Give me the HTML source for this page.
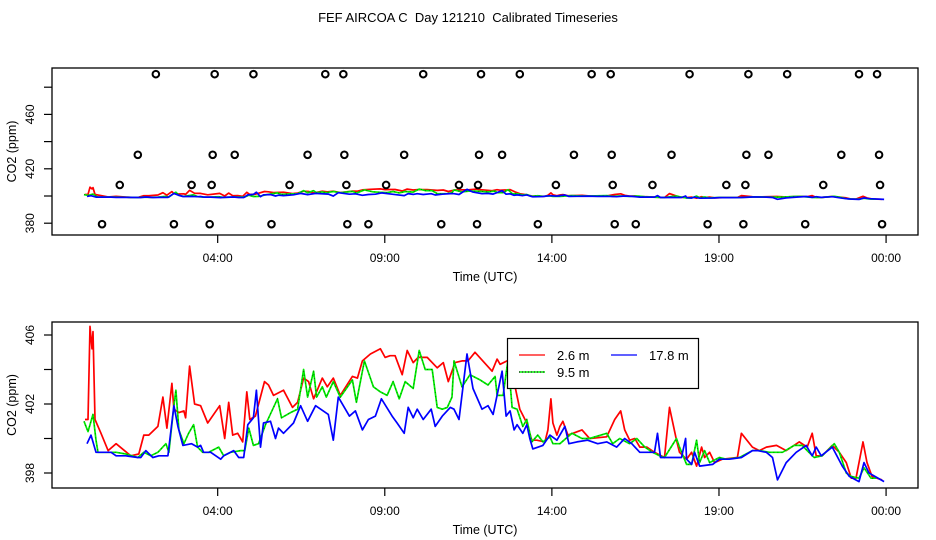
<!DOCTYPE html>
<html><head><meta charset="utf-8"><title>FEF AIRCOA C Calibrated Timeseries</title>
<style>
html,body{margin:0;padding:0;background:#fff;}
svg{display:block;}
text{font-family:"Liberation Sans",sans-serif;fill:#000;}
.pre{white-space:pre;}
</style></head>
<body>
<svg id="chart" width="936" height="540" viewBox="0 0 936 540" xmlns="http://www.w3.org/2000/svg">
<rect x="0" y="0" width="936" height="540" fill="#fff"/>
<text class="pre" xml:space="preserve" x="468" y="22" font-size="13" text-anchor="middle">FEF AIRCOA C  Day 121210  Calibrated Timeseries</text>
<g id="top"></g>
<g id="bot"></g>
</svg>
<script>
// ---- data (time in hours UTC, CO2 in ppm) ----
const redT = [0.03,0.12,0.18,0.24,0.27,0.33,0.51,0.72,0.96,1.40,1.64,1.79,1.94,2.21,2.36,2.48,2.63,2.69,2.84,2.99,3.04,3.16,3.31,3.49,3.70,4.06,4.21,4.33,4.45,4.60,4.75,4.87,4.96,5.13,5.40,5.52,5.67,5.97,6.24,6.39,6.57,6.72,6.87,7.13,7.28,7.46,7.67,8.03,8.18,8.33,8.57,8.87,9.01,9.16,9.31,9.52,9.67,9.85,10.00,10.27,10.57,10.75,10.90,11.10,11.31,11.49,11.70,12.21,12.36,12.45,12.66,12.75,12.90,13.04,13.25,13.40,13.55,13.79,13.88,13.97,14.03,14.15,14.24,14.33,14.48,14.63,14.90,15.13,15.64,15.88,16.06,16.18,16.33,16.48,16.63,16.84,17.07,17.37,17.52,17.73,17.82,18.03,18.18,18.33,18.48,18.57,18.72,18.87,19.10,19.55,19.67,20.00,20.21,20.42,20.72,21.01,21.40,21.64,21.79,21.91,22.09,22.39,22.60,22.81,22.96,23.10,23.31,23.43,23.58,23.88];
const redV = [401.1,401.1,406.5,405.2,406.2,401.1,400.3,399.3,399.7,399.0,399.1,400.2,400.2,400.7,402.4,400.6,403.2,401.7,401.5,401.6,401.2,404.2,402.0,401.9,400.9,401.9,400.0,402.1,400.2,400.3,399.8,402.7,401.1,401.3,403.3,403.1,402.5,402.8,401.8,402.1,403.5,403.3,402.3,403.5,403.0,403.5,402.5,403.6,403.5,404.5,404.9,405.2,404.7,404.8,404.8,403.7,405.1,404.4,404.7,404.7,404.1,404.4,403.3,404.4,404.5,404.5,405.0,403.9,404.6,404.3,404.5,404.7,403.0,401.7,400.9,399.9,399.9,399.8,400.5,402.3,400.9,400.2,400.7,401.0,400.2,400.3,400.5,400.0,400.1,401.1,401.6,400.5,399.9,400.0,399.5,399.5,399.2,398.9,401.8,399.9,399.2,398.8,399.2,398.4,399.5,398.9,399.2,398.6,398.8,398.9,400.3,399.5,399.3,399.5,399.6,399.3,399.8,399.5,400.3,399.0,399.0,399.6,399.2,398.6,397.7,397.7,399.8,398.6,397.8,397.6];
const greenT = [0.00,0.12,0.27,0.36,0.42,0.72,0.96,1.25,1.61,1.79,2.00,2.21,2.45,2.54,2.69,2.75,2.84,2.99,3.13,3.28,3.40,3.55,3.73,4.03,4.18,4.39,4.69,4.81,4.93,5.07,5.22,5.43,5.79,5.91,6.18,6.39,6.57,6.69,6.87,6.96,7.13,7.25,7.46,7.67,8.03,8.15,8.39,8.66,8.87,9.07,9.25,9.43,9.61,9.85,10.03,10.21,10.42,10.57,10.72,10.87,11.01,11.07,11.31,11.55,11.85,12.09,12.30,12.36,12.54,12.69,12.81,12.96,13.13,13.25,13.40,13.58,13.73,13.94,14.03,14.24,14.60,14.90,15.13,15.64,15.82,16.03,16.33,16.54,16.78,17.01,17.22,17.37,17.73,17.82,18.03,18.18,18.33,18.42,18.57,18.72,19.01,19.22,19.61,20.00,20.21,20.51,20.90,21.25,21.49,21.64,21.85,22.09,22.45,22.60,22.81,22.96,23.19,23.34,23.55,23.70];
const greenV = [401.0,400.4,401.4,399.9,399.2,399.2,399.2,399.1,398.9,399.2,399.0,399.2,399.7,399.2,401.9,402.8,400.5,399.7,400.3,400.8,399.5,399.2,399.2,399.5,399.0,399.2,399.3,399.3,400.6,399.6,399.7,400.8,402.3,401.2,401.5,401.7,404.0,402.4,403.9,402.4,403.0,402.4,403.3,402.4,403.4,402.1,404.5,403.0,402.7,402.5,403.3,402.3,403.3,402.9,405.1,404.0,404.0,401.8,401.7,401.8,402.4,404.5,403.0,403.7,403.4,403.1,403.6,402.5,402.5,404.6,401.8,401.7,400.7,401.1,399.8,400.2,399.8,400.1,399.7,399.7,400.3,400.0,400.0,400.3,399.7,400.0,399.7,400.0,399.5,399.2,399.0,398.9,400.0,399.5,398.5,398.5,399.9,398.6,399.3,398.6,398.9,398.8,398.9,399.3,399.3,399.2,399.2,399.6,399.6,399.3,398.9,399.0,399.7,399.2,398.0,397.8,397.7,398.3,397.7,397.7];
const blueT = [0.09,0.21,0.36,0.51,0.81,0.96,1.25,1.61,1.70,1.85,2.06,2.24,2.51,2.69,2.81,2.96,3.22,3.40,3.49,3.58,3.79,4.09,4.18,4.48,4.63,4.78,4.90,5.07,5.16,5.28,5.37,5.58,5.73,5.82,5.97,6.27,6.48,6.69,6.93,7.31,7.46,7.61,7.94,8.12,8.33,8.51,8.72,8.90,9.22,9.37,9.58,9.70,9.85,9.97,10.15,10.39,10.51,10.72,10.96,11.07,11.22,11.46,11.64,11.91,12.09,12.24,12.51,12.63,12.75,12.87,12.96,13.13,13.25,13.34,13.43,13.73,13.94,14.15,14.39,14.51,14.75,15.07,15.37,15.64,15.94,16.18,16.39,16.63,16.84,17.07,17.16,17.25,17.58,17.88,18.00,18.03,18.18,18.27,18.42,18.81,19.01,19.31,19.67,20.00,20.15,20.42,20.60,20.75,21.01,21.31,21.61,21.79,21.91,22.06,22.39,22.69,22.90,23.19,23.34,23.49,23.94];
const blueV = [399.7,400.2,399.2,399.2,399.2,399.0,399.0,398.9,398.9,399.3,398.9,399.0,399.0,401.9,400.7,399.6,399.7,399.5,399.6,399.2,399.2,398.8,399.0,399.3,398.9,398.9,400.8,401.2,402.8,399.5,400.9,401.0,400.0,400.6,400.3,400.9,401.9,401.0,401.9,401.4,399.9,402.4,401.3,401.6,400.5,401.1,401.3,402.3,401.3,400.9,400.3,401.8,401.2,401.7,401.1,401.7,400.7,401.3,401.8,401.7,401.1,404.9,402.9,401.7,401.9,401.4,403.9,401.3,401.6,400.5,400.8,400.3,400.8,400.0,399.4,399.6,400.2,399.9,400.7,399.7,399.8,399.9,399.7,399.8,399.5,400.0,399.7,399.2,399.2,399.2,400.3,398.9,398.9,398.9,400.0,398.8,398.5,399.2,398.4,398.5,398.8,398.8,398.9,399.3,399.3,399.2,398.9,397.6,398.6,399.2,399.6,399.0,399.5,399.0,399.5,398.4,397.8,397.5,398.6,398.0,397.5];
// calibration / flagged points in top panel
const calHighT = [2.15,3.91,5.07,7.22,7.76,10.15,11.88,13.04,15.19,15.76,18.12,19.88,21.04,23.19,23.73];
const calHighV = [489.6,489.6,489.6,489.6,489.6,489.6,489.6,489.6,489.6,489.6,489.6,489.6,489.6,489.6,489.6];
const calMidT = [1.61,3.85,4.51,6.69,7.79,9.58,11.82,12.51,14.66,15.79,17.58,19.82,20.48,22.66,23.79];
const calMidV = [430.3,430.3,430.3,430.3,430.3,430.3,430.3,430.3,430.3,430.3,430.3,430.3,430.3,430.3,430.3];
const calLowT = [1.07,3.22,3.82,6.15,7.85,9.04,11.22,11.79,14.12,15.82,17.01,19.22,19.79,22.12,23.82];
const calLowV = [408.1,408.1,408.1,408.1,408.1,408.1,408.1,408.1,408.1,408.1,408.1,408.1,408.1,408.1,408.1];
const calBaseT = [0.54,2.69,3.76,5.61,7.88,8.51,10.69,11.76,13.58,15.88,16.51,18.66,19.73,21.58,23.88];
const calBaseV = [379.3,379.3,379.3,379.3,379.3,379.3,379.3,379.3,379.3,379.3,379.3,379.3,379.3,379.3,379.3];
const xTickVals = [4,9,14,19,24];
const xTickLabels = ["04:00","09:00","14:00","19:00","00:00"];
const topYTicks = [380,400,420,440,460,480];
const topYLabels = [380,420,460];
const botYTicks = [398,400,402,404,406];
const botYLabels = [398,402,406];

const NS = "http://www.w3.org/2000/svg";
function mk(tag, attrs, parent){
  const e = document.createElementNS(NS, tag);
  for (const k in attrs) e.setAttribute(k, attrs[k]);
  parent.appendChild(e);
  return e;
}
const X = h => 84 + h * 33.42;

function panel(g, box, Y, yTicks, yLabels, prefix){
  const fr = mk('rect', {x:box.x0, y:box.y0, width:box.x1-box.x0, height:box.y1-box.y0, fill:'none', stroke:'#000', 'stroke-width':1.3}, g);
  
  
  xTickVals.forEach((v,i)=>{
    const t = mk('line', {x1:X(v), x2:X(v), y1:box.y1, y2:box.y1+8, stroke:'#000', 'stroke-width':1.2}, g);
    
    
    const l = mk('text', {x:X(v), y:box.y1+27, 'font-size':12, 'text-anchor':'middle'}, g);
    l.textContent = xTickLabels[i];
    
    
  });
  const xt = mk('text', {x:485, y:box.y1+46, 'font-size':12.5, 'text-anchor':'middle'}, g);
  xt.textContent = 'Time (UTC)';
  
  
  yTicks.forEach(v=>{
    const t = mk('line', {x1:box.x0-8, x2:box.x0, y1:Y(v), y2:Y(v), stroke:'#000', 'stroke-width':1.2}, g);
    
    
  });
  yLabels.forEach(v=>{
    const l = mk('text', {x:0, y:0, 'font-size':12, 'text-anchor':'middle', transform:`translate(34,${Y(v)}) rotate(-90)`}, g);
    l.textContent = String(v);
    
    
  });
  const yt = mk('text', {x:0, y:0, 'font-size':12.5, 'text-anchor':'middle', transform:`translate(16,${(box.y0+box.y1)/2}) rotate(-90)`}, g);
  yt.textContent = 'CO2 (ppm)';
  
  
}

function series(g, T, V, Y, color, name, dotted){
  const d = T.map((t,i)=>(i?'L':'M') + X(t).toFixed(1) + ',' + Y(V[i]).toFixed(1)).join('');
  const p = mk('path', {d:d, fill:'none', stroke:color, 'stroke-width':1.7, 'stroke-linejoin':'round'}, g);
  
  
  if (dotted){
    const q = mk('path', {d:d, fill:'none', stroke:'#000', 'stroke-width':1, 'stroke-dasharray':'1 3', opacity:0.5}, g);
    
    
  }
}

// ---- top panel ----
const gt = document.getElementById('top');
const topBox = {x0:52, x1:918, y0:68, y1:235};
const Yt = v => 196 - (v - 400) * 1.36;
panel(gt, topBox, Yt, topYTicks, topYLabels, 'top');
series(gt, redT, redV, Yt, '#ff0000', 'top-line-2.6m', false);
series(gt, greenT, greenV, Yt, '#00f000', 'top-line-9.5m', true);
series(gt, blueT, blueV, Yt, '#0000ff', 'top-line-17.8m', false);
[[calHighT,calHighV],[calMidT,calMidV],[calLowT,calLowV],[calBaseT,calBaseV]].forEach(([T,V])=>{
  T.forEach((t,i)=>{
    const c = mk('circle', {cx:X(t), cy:Yt(V[i]), r:3.3, fill:'none', stroke:'#000', 'stroke-width':2}, gt);
    
    
  });
});

// ---- bottom panel ----
const gb = document.getElementById('bot');
const botBox = {x0:52, x1:918, y0:322, y1:488};
const Yb = v => 438.5 - (v - 400) * 17.25;
const clip = mk('clipPath', {id:'bclip'}, gb);
mk('rect', {x:botBox.x0, y:botBox.y0, width:botBox.x1-botBox.x0, height:botBox.y1-botBox.y0}, clip);
panel(gb, botBox, Yb, botYTicks, botYLabels, 'bottom');
const gl = mk('g', {'clip-path':'url(#bclip)'}, gb);


series(gl, redT, redV, Yb, '#ff0000', 'line-2.6m', false);
series(gl, greenT, greenV, Yb, '#00f000', 'line-9.5m', true);
series(gl, blueT, blueV, Yb, '#0000ff', 'line-17.8m', false);

// legend
const lg = mk('g', {}, gb);


mk('rect', {x:507.5, y:338.5, width:191, height:50, fill:'#fff', stroke:'#000', 'stroke-width':1.2}, lg);
const entries = [
  {x:519, y:355, color:'#ff0000', label:'2.6 m', dash:null, name:'legend-entry-2.6m'},
  {x:519, y:372, color:'#000', label:'9.5 m', dash:'1 2', name:'legend-entry-9.5m'},
  {x:611, y:355, color:'#0000ff', label:'17.8 m', dash:null, name:'legend-entry-17.8m'}
];
entries.forEach(e=>{
  const eg = mk('g', {}, lg);
  
  
  if (e.dash){
    mk('line', {x1:e.x, x2:e.x+26, y1:e.y, y2:e.y, stroke:'#00f000', 'stroke-width':1.5}, eg);
    mk('line', {x1:e.x, x2:e.x+26, y1:e.y, y2:e.y, stroke:'#000', 'stroke-width':1, 'stroke-dasharray':e.dash}, eg);
  } else {
    mk('line', {x1:e.x, x2:e.x+26, y1:e.y, y2:e.y, stroke:e.color, 'stroke-width':1.2}, eg);
  }
  const t = mk('text', {x:e.x+38, y:e.y+5, 'font-size':13}, eg);
  t.textContent = e.label;
});
</script>
</body></html>
